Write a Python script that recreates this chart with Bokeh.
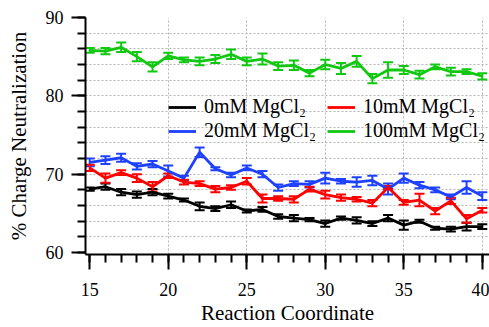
from bokeh.plotting import figure
from bokeh.models import (ColumnDataSource, Whisker, TeeHead, Legend, LegendItem,
                          SingleIntervalTicker, FixedTicker, Range1d)
from bokeh.embed import file_html
from bokeh.resources import INLINE

x = list(range(15, 41))

y0 = [68.1, 68.4, 67.7, 67.4, 67.7, 67.2, 66.7, 65.9, 65.6, 66.1, 65.3, 65.5, 64.6,
      64.4, 64.2, 63.7, 64.4, 64.1, 63.7, 64.4, 63.5, 64.0, 63.1, 63.0, 63.3, 63.3]
e0 = [0.2, 0.4, 0.4, 0.4, 0.4, 0.3, 0.2, 0.5, 0.3, 0.4, 0.2, 0.3, 0.3,
      0.4, 0.2, 0.4, 0.2, 0.4, 0.3, 0.4, 0.6, 0.2, 0.2, 0.3, 0.5, 0.3]

y10 = [70.8, 69.5, 70.2, 69.5, 68.4, 69.8, 69.0, 68.8, 68.1, 68.3, 69.1, 66.9, 66.9,
       66.8, 68.1, 67.4, 67.0, 66.8, 66.3, 68.3, 66.4, 66.7, 65.3, 66.6, 64.3, 65.4]
e10 = [0.4, 0.6, 0.3, 0.5, 0.6, 0.3, 0.3, 0.3, 0.4, 0.3, 0.4, 0.5, 0.3,
       0.4, 0.3, 0.5, 0.4, 0.3, 0.4, 0.2, 0.3, 0.8, 0.4, 0.4, 0.5, 0.3]

y20 = [71.5, 71.8, 72.1, 71.0, 71.3, 70.4, 69.5, 72.8, 70.7, 69.9, 70.8, 70.0, 68.3,
       68.8, 68.7, 69.5, 69.1, 69.0, 69.2, 68.1, 69.5, 68.6, 68.0, 67.1, 68.3, 67.2]
e20 = [0.5, 0.5, 0.5, 0.4, 0.4, 0.7, 0.3, 0.6, 0.2, 0.3, 0.3, 0.4, 0.4,
       0.3, 0.4, 0.7, 0.3, 0.6, 0.6, 0.7, 0.6, 0.4, 0.3, 0.3, 0.8, 0.5]

y100 = [85.8, 85.7, 86.2, 85.0, 83.7, 85.1, 84.6, 84.4, 84.7, 85.3, 84.4, 84.7, 83.8,
        83.9, 82.9, 84.0, 83.5, 84.4, 82.2, 83.3, 83.3, 82.7, 83.7, 83.1, 83.1, 82.5]
e100 = [0.3, 0.4, 0.6, 0.6, 0.6, 0.4, 0.3, 0.5, 0.5, 0.6, 0.5, 0.7, 0.5,
        0.6, 0.4, 0.6, 0.7, 0.7, 0.6, 1.0, 0.5, 0.5, 0.3, 0.5, 0.3, 0.4]

labels = ["0mM MgCl\u2082", "10mM MgCl\u2082", "20mM MgCl\u2082", "100mM MgCl\u2082"]
colors = ["#000000", "#ff0000", "#1e40ff", "#10c810"]
series = [(y0, e0), (y10, e10), (y20, e20), (y100, e100)]

FONT = "Liberation Serif"

p = figure(width=489, height=327, output_backend="svg", toolbar_location=None,
           x_range=Range1d(14.73, 40.46), y_range=Range1d(59.75, 90.0),
           min_border_left=85, min_border_right=0, min_border_top=17,
           min_border_bottom=71)
p.outline_line_color = None
p.background_fill_color = "white"

renderers = {}
for idx in [2, 0, 1, 3]:
    ys, es = series[idx]
    src = ColumnDataSource(dict(x=x, y=ys,
                                lo=[a - b for a, b in zip(ys, es)],
                                hi=[a + b for a, b in zip(ys, es)]))
    r = p.line("x", "y", source=src, line_color=colors[idx], line_width=2.8)
    w = Whisker(base="x", lower="lo", upper="hi", source=src,
                line_color=colors[idx], line_width=2,
                upper_head=TeeHead(size=10, line_color=colors[idx], line_width=2),
                lower_head=TeeHead(size=10, line_color=colors[idx], line_width=2))
    p.add_layout(w)
    renderers[idx] = r

# axes
p.xaxis.ticker = SingleIntervalTicker(interval=5, num_minor_ticks=5)
p.yaxis.ticker = SingleIntervalTicker(interval=10, num_minor_ticks=5)
for ax in [p.xaxis[0], p.yaxis[0]]:
    ax.axis_line_width = 2
    ax.axis_line_color = "black"
    ax.major_tick_line_width = 2
    ax.minor_tick_line_width = 2
    ax.major_tick_line_color = "black"
    ax.minor_tick_line_color = "black"
    ax.major_tick_in = 0
    ax.minor_tick_in = 0
    ax.major_label_text_font = FONT
    ax.major_label_text_font_size = "18px"
    ax.major_label_text_color = "black"
    ax.axis_label_text_font = FONT
    ax.axis_label_text_font_size = "21px"
    ax.axis_label_text_font_style = "normal"
    ax.axis_label_text_color = "black"

p.xaxis.major_tick_out = 15
p.xaxis.minor_tick_out = 8
p.yaxis.major_tick_out = 14
p.yaxis.minor_tick_out = 8
p.xaxis.major_label_standoff = 13
p.yaxis.major_label_standoff = 8
p.xaxis.axis_label = "Reaction Coordinate"
p.yaxis.axis_label = "% Charge Neutralization"
p.xaxis.axis_label_standoff = 2
p.yaxis.axis_label_standoff = 12

# grids
p.xgrid.ticker = FixedTicker(ticks=[20, 25, 30, 35, 40])
p.ygrid.ticker = FixedTicker(ticks=[62, 64, 66, 68, 70, 72, 74, 76, 78, 80, 82, 84, 86, 88, 90])
for g in [p.xgrid[0], p.ygrid[0]]:
    g.grid_line_color = "#b4b4b4"
    g.grid_line_dash = "2 2"
    g.grid_line_width = 1

legend = Legend(items=[
    LegendItem(label=labels[0], renderers=[renderers[0]]),
    LegendItem(label=labels[2], renderers=[renderers[2]]),
    LegendItem(label=labels[1], renderers=[renderers[1]]),
    LegendItem(label=labels[3], renderers=[renderers[3]]),
], location=(83, 112), ncols=2, nrows=2)
legend.border_line_color = None
legend.background_fill_alpha = 0
legend.padding = 0
legend.margin = 0
legend.spacing = 1
legend.glyph_width = 28
legend.glyph_height = 20
legend.label_height = 20
legend.label_width = 122
legend.label_standoff = 8
legend.label_text_font = FONT
legend.label_text_font_size = "20px"
legend.label_text_color = "black"
p.add_layout(legend, "center")

open("out.html", "w").write(file_html(p, INLINE))
